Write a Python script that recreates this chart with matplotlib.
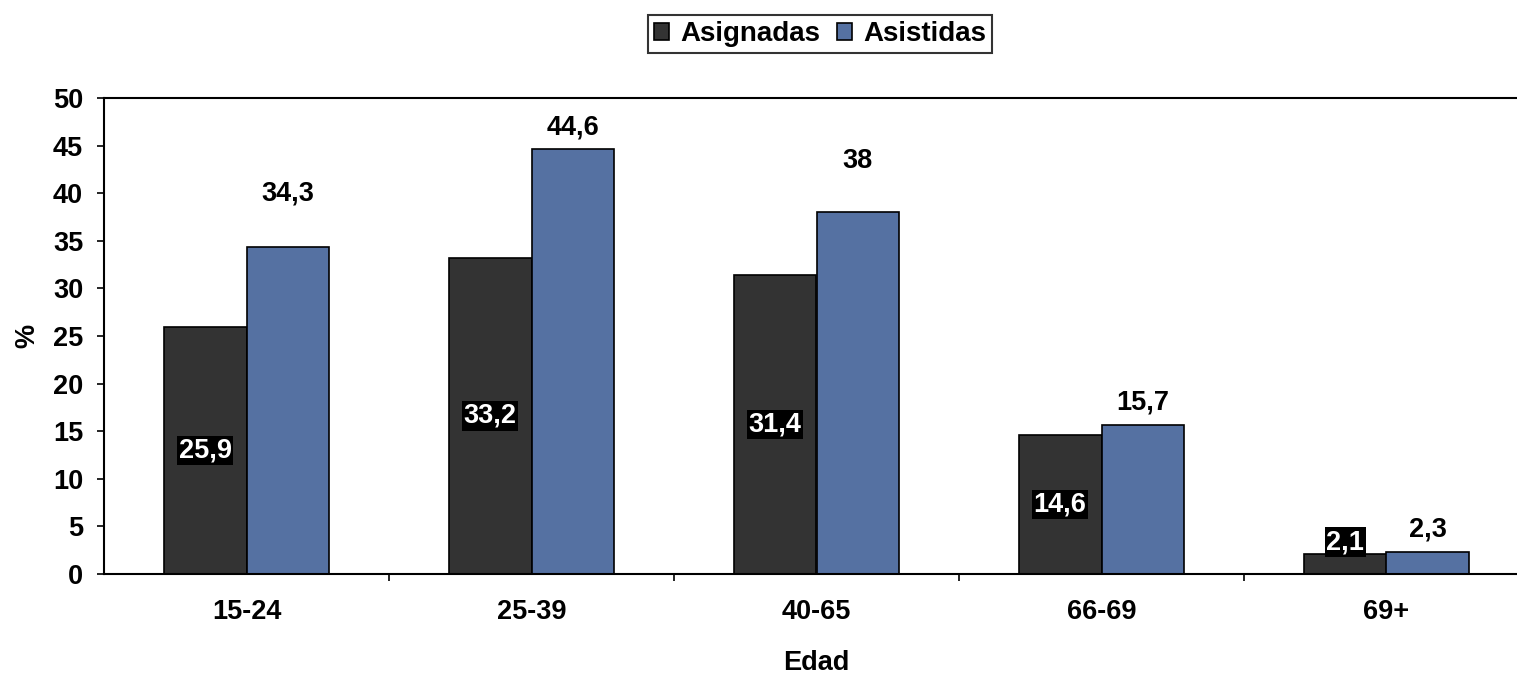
import numpy as np
import matplotlib.pyplot as plt

# --- DATA ---
categories = ['15-24', '25-39', '40-65', '66-69', '69+']
asignadas = [25.9, 33.2, 31.4, 14.6, 2.1]
asistidas = [34.3, 44.6, 38.0, 15.7, 2.3]
series_names = ['Asignadas', 'Asistidas']

# label lift above the blue bars (data units), as placed in the original
label_lift = [4.9, 1.6, 4.6, 1.6, 1.6]


def fmt(v):
    s = f'{v:.1f}'.replace('.', ',')
    return s[:-2] if s.endswith(',0') else s


plt.rcParams['font.family'] = ['Liberation Sans', 'DejaVu Sans']
plt.rcParams['font.weight'] = 'bold'
FS = 19.5

fig = plt.figure(figsize=(15.17, 6.74), dpi=100)
ax = fig.add_axes([104 / 1517, 100 / 674, 1425 / 1517, 476 / 674])

x = np.arange(len(categories))
w = 0.29
colors = ['#333333', '#5571a2']

b1 = ax.bar(x - w / 2, asignadas, w, color=colors[0], edgecolor='black', linewidth=1.2, label=series_names[0])
b2 = ax.bar(x + w / 2, asistidas, w, color=colors[1], edgecolor='black', linewidth=1.2, label=series_names[1])

# dark series: white text in a black box, middle of bar
for bar, v in zip(b1, asignadas):
    ax.text(bar.get_x() + bar.get_width() / 2, max(v / 2, 3.35), fmt(v), ha='center', va='center',
            color='white', fontsize=FS, fontweight='bold',
            bbox=dict(boxstyle='square,pad=0.06', facecolor='black', edgecolor='none'))
# blue series: above the bar
for bar, v, lift in zip(b2, asistidas, label_lift):
    ax.text(bar.get_x() + bar.get_width() / 2, v + lift, fmt(v), ha='center', va='baseline',
            color='black', fontsize=FS, fontweight='bold')

ax.set_xlim(-0.5, len(categories) - 0.5)
ax.set_ylim(0, 50)
ax.set_yticks(range(0, 51, 5))
ax.set_xticks(x)
ax.set_xticklabels(categories)
ax.set_xticks(np.arange(0.5, len(categories) - 0.5, 1), minor=True)
ax.tick_params(axis='x', which='major', length=0, pad=18, labelsize=FS)
ax.tick_params(axis='x', which='minor', length=5, width=1.2, direction='out')
ax.tick_params(axis='y', length=5, width=1.2, direction='out', labelsize=FS, pad=10)

for s in ['left', 'bottom', 'top']:
    ax.spines[s].set_linewidth(1.5)
ax.spines['right'].set_visible(False)

ax.set_xlabel('Edad', fontsize=FS, fontweight='bold', labelpad=18)
ax.set_ylabel('%', fontsize=FS, fontweight='bold', labelpad=9)

leg = fig.legend(loc='center', bbox_to_anchor=(0.5405, 0.9496), ncol=2, fontsize=20,
                 frameon=True, fancybox=False, edgecolor='black', handlelength=0.55, handleheight=0.55,
                 handletextpad=0.4, columnspacing=0.6, borderpad=0.2, borderaxespad=0)
leg.get_frame().set_linewidth(1.5)
for t in leg.get_texts():
    t.set_fontweight('bold')

fig.savefig('out.png', dpi=100)
